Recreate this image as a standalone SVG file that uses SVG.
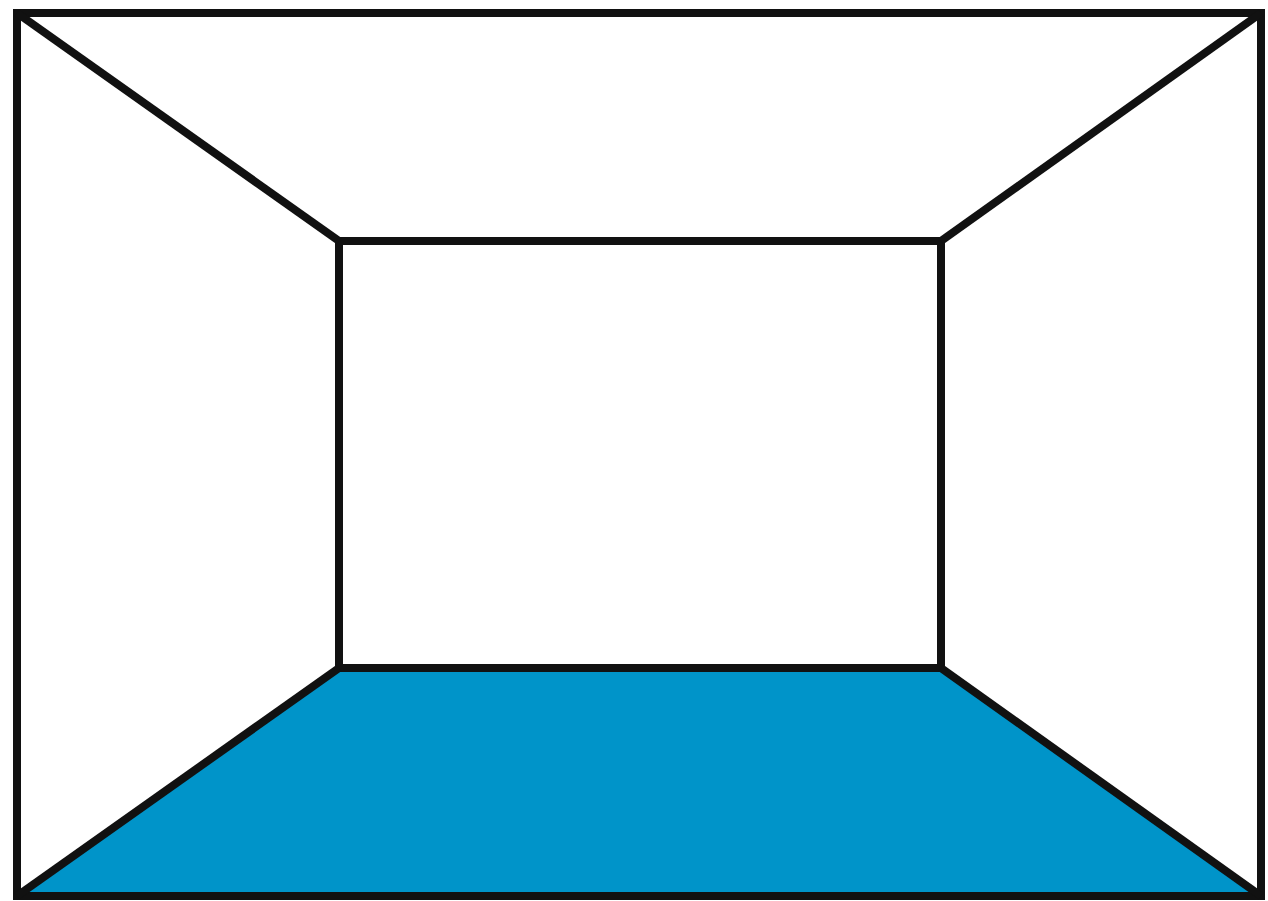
<svg xmlns="http://www.w3.org/2000/svg" width="1268" height="901" viewBox="0 0 1268 901">
<style>
.ln{stroke:#111;stroke-width:8;fill:none;stroke-linecap:butt;stroke-linejoin:miter}
</style>
<rect width="1268" height="901" fill="#fff"/>
<polygon points="20,895 339,668 941,668 1258,895" fill="#0094C9"/>
<g id="edges" class="ln">
<rect x="17" y="13" width="1244" height="883"/>
<rect x="339" y="241" width="602" height="427"/>
<line x1="17" y1="13" x2="339" y2="241"/>
<line x1="1261" y1="13" x2="941" y2="241"/>
<line x1="17" y1="896" x2="339" y2="668"/>
<line x1="1261" y1="896" x2="941" y2="668"/>
</g>
</svg>
